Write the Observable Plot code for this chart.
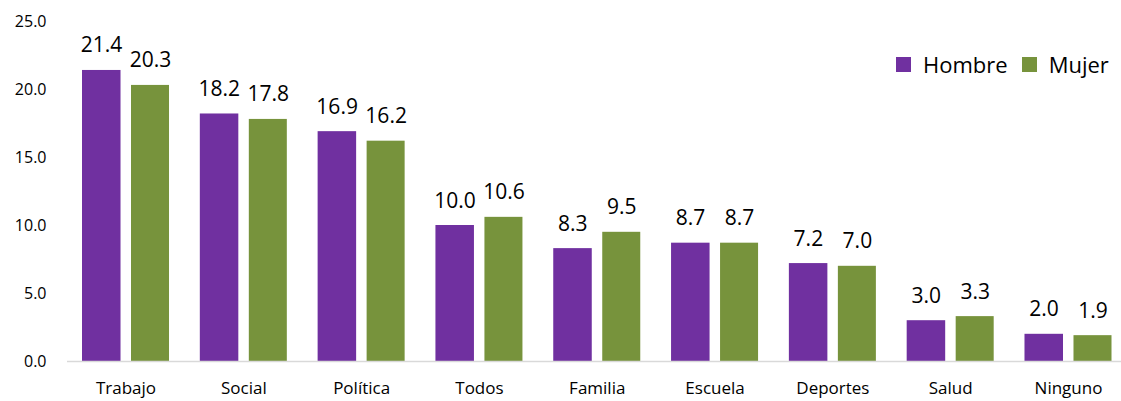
<!DOCTYPE html>
<html><head><meta charset="utf-8">
<script src="https://cdn.jsdelivr.net/npm/d3@7"></script>
<script src="https://cdn.jsdelivr.net/npm/@observablehq/plot@0.6"></script>
<style>
body{margin:0;background:#fff;font-family:"Open Sans",sans-serif;}
#wrap{position:relative;width:1121px;height:401px;}
#legend{position:absolute;left:896px;top:49px;font-size:22px;color:#000;display:flex;align-items:center;line-height:30px;}
#legend span.sw{display:inline-block;width:15px;height:15px;margin-right:12px;}
#legend span.lab{margin-right:14px;}
</style></head>
<body><div id="wrap"><div id="legend"></div></div>
<script>
const categories = ["Trabajo","Social","Política","Todos","Familia","Escuela","Deportes","Salud","Ninguno"];
const hombre = [21.4,18.2,16.9,10.0,8.3,8.7,7.2,3.0,2.0];
const mujer  = [20.3,17.8,16.2,10.6,9.5,8.7,7.0,3.3,1.9];
const series = ["Hombre","Mujer"];
const colors = ["#7030a0","#77933c"];
const yTicks = [0,5,10,15,20,25];

const data = [];
categories.forEach((c,i)=>{
  data.push({cat:c, serie:"Hombre", value:hombre[i]});
  data.push({cat:c, serie:"Mujer", value:mujer[i]});
});
const H = data.filter(d=>d.serie==="Hombre");
const M = data.filter(d=>d.serie==="Mujer");

const chart = Plot.plot({
  width:1121, height:401,
  marginLeft:67, marginRight:0, marginTop:21, marginBottom:40,
  style:{fontFamily:"Open Sans, sans-serif", fontSize:"16px", color:"#000", background:"#fff"},
  x:{domain:categories, padding:0, round:false, range:[66.6,1126.9], label:null, tickSize:0, tickPadding:20},
  y:{domain:[0,25], ticks:yTicks, tickFormat:d=>d.toFixed(1), label:null, tickSize:0, tickPadding:21},
  color:{domain:series, range:colors},
  marks:[
    Plot.axisX({tickSize:0, tickPadding:20, fontSize:17, label:null}),
    Plot.axisY({ticks:yTicks, tickFormat:d=>d.toFixed(1), tickSize:0, tickPadding:21, fontSize:16, label:null}),
    Plot.barY(H,{x:"cat", y:"value", fill:"serie", insetLeft:15.4, insetRight:63.9}),
    Plot.barY(M,{x:"cat", y:"value", fill:"serie", insetLeft:64.4, insetRight:15.4}),
    Plot.ruleY([0],{stroke:"#d9d9d9", strokeWidth:1.5}),
    Plot.text(H,{x:"cat", y:"value", text:d=>d.value.toFixed(1), dx:-24.5, dy:-18, lineAnchor:"bottom", fontSize:21, fill:"#000"}),
    Plot.text(M,{x:"cat", y:"value", text:d=>d.value.toFixed(1), dx:24.5, dy:-18, lineAnchor:"bottom", fontSize:21, fill:"#000"})
  ]
});
document.getElementById("wrap").prepend(chart);
const lg = document.getElementById("legend");
series.forEach((s,i)=>{
  const sw=document.createElement("span"); sw.className="sw"; sw.style.background=colors[i];
  const lb=document.createElement("span"); lb.className="lab"; lb.textContent=s;
  lg.append(sw,lb);
});
</script></body></html>
